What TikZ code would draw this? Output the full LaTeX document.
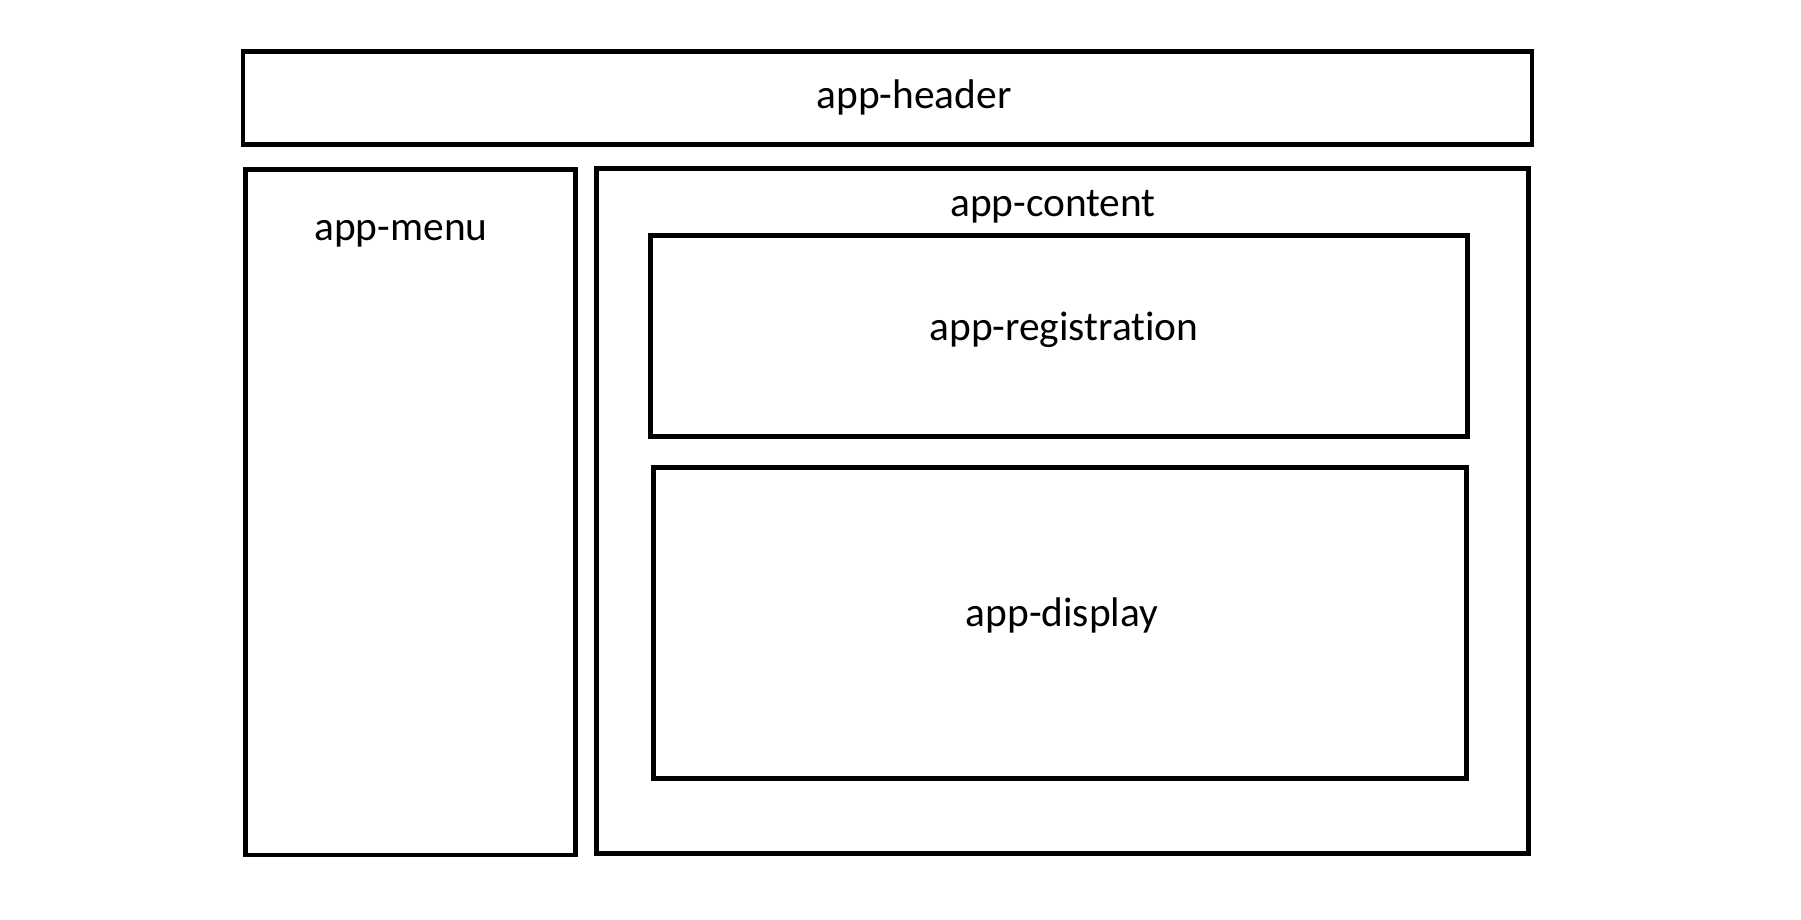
\documentclass[tikz,border=0pt]{standalone}
\usepackage{fontspec}
\setmainfont{Carlito}[Ligatures={NoCommon}]
\begin{document}
\begin{tikzpicture}[x=1pt,y=-1pt,
  panel/.style={draw=black, line width=4.7pt, rectangle, inner sep=0pt, outer sep=0pt, anchor=north west},
  lbl/.style={font=\fontsize{41.4}{48}\selectfont, text=black, anchor=base, inner sep=0pt}]
  \useasboundingbox[fill=white] (0,0) rectangle (1801,920);

  % layout panels
  \node[panel, minimum width=1289pt, minimum height=92.6pt] (header) at (243,51.7) {};
  \node[panel, minimum width=330.4pt, minimum height=685.7pt] (menu) at (245.3,169.3) {};
  \node[panel, minimum width=931.6pt, minimum height=684.6pt] (content) at (596.7,168.7) {};
  \node[panel, minimum width=816.6pt, minimum height=200.6pt] (registration) at (650.7,235.7) {};
  \node[panel, minimum width=812.8pt, minimum height=310.6pt] (display) at (653.5,467.7) {};

  % panel names
  \node[lbl] (headerlbl) at (914,108.5) {app-header};
  \node[lbl] (menulbl) at (401,240.5) {app-menu};
  \node[lbl] (contentlbl) at (1053,216) {app-content};
  \node[lbl] (registrationlbl) at (1064,340) {app-registration};
  \node[lbl] (displaylbl) at (1062,626) {app-display};
\end{tikzpicture}
\end{document}
